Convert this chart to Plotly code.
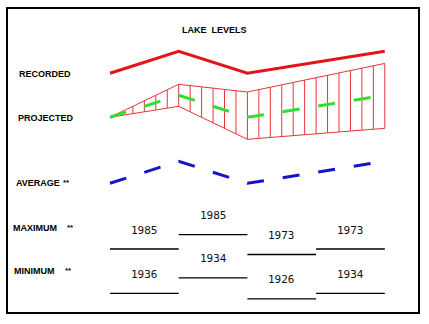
import numpy as np
import plotly.graph_objects as go

# ---- data -------------------------------------------------------------
periods = [0, 1, 2, 3, 4]                      # period boundaries along the x axis
recorded = [577.0, 579.0, 577.0, 578.0, 579.0]
projected_high = [573.0, 576.0, 575.3, 576.6, 577.9]
projected_low = [573.0, 574.0, 571.0, 571.5, 572.0]
projected_mid = [573.0, 575.0, 573.0, 574.0, 575.0]
average = [577.0, 579.0, 577.0, 578.0, 579.0]

segments = [0, 1, 2, 3]                        # each spans segments[i] .. segments[i]+1
maximum_level = [581.0, 582.3, 580.5, 581.0]
maximum_year = ["1985", "1985", "1973", "1973"]
minimum_level = [572.0, 573.4, 571.5, 572.0]
minimum_year = ["1936", "1934", "1926", "1934"]

row_labels = ["RECORDED", "PROJECTED", "AVERAGE", "MAXIMUM", "MINIMUM"]

# ---- layout constants --------------------------------------------------
W, H = 429, 324
X0_PX, STEP_PX = 110.0, 68.7                   # pixel of period 0, pixels per period
PX_PER_FT = 11.0

RED = "#e4141b"
HATCH = "#e8343a"
GREEN = "#2ee02e"
BLUE = "#1414c8"
DASH = "17px,19px"
LABEL_FONT = dict(family="Liberation Sans Narrow, Arial Narrow, Liberation Sans, Arial",
                  size=9, color="black")
YEAR_FONT = dict(family="DejaVu Sans Mono, Liberation Mono, monospace", size=11, color="#111111")


def y_range(ref_level, ref_px):
    """Axis range so that ref_level sits at ref_px from the top of the page."""
    return [ref_level - (H - ref_px) / PX_PER_FT, ref_level + ref_px / PX_PER_FT]


fig = go.Figure()

# recorded level
fig.add_trace(go.Scatter(x=periods, y=recorded, mode="lines",
                         line=dict(color=RED, width=3), yaxis="y"))

# projected band: outline plus vertical hatching
fig.add_trace(go.Scatter(x=periods, y=projected_high, mode="lines",
                         line=dict(color=HATCH, width=1), yaxis="y"))
fig.add_trace(go.Scatter(x=periods, y=projected_low, mode="lines",
                         line=dict(color=HATCH, width=1), yaxis="y"))
hx, hy = [], []
for xk in np.arange(0, 24 + 1) / 6.0:
    lo = float(np.interp(xk, periods, projected_low))
    hi = float(np.interp(xk, periods, projected_high))
    hx += [xk, xk, None]
    hy += [lo, hi, None]
fig.add_trace(go.Scatter(x=hx, y=hy, mode="lines",
                         line=dict(color=HATCH, width=1), yaxis="y"))
fig.add_trace(go.Scatter(x=periods, y=projected_mid, mode="lines",
                         line=dict(color=GREEN, width=3, dash=DASH), yaxis="y"))

# average level
fig.add_trace(go.Scatter(x=periods, y=average, mode="lines",
                         line=dict(color=BLUE, width=3, dash=DASH), yaxis="y2"))

# maximum / minimum per period with the year of occurrence
annotations = []
for axis, levels, years in (("y3", maximum_level, maximum_year),
                            ("y4", minimum_level, minimum_year)):
    sx, sy = [], []
    for s, lv in zip(segments, levels):
        sx += [s, s + 1, None]
        sy += [lv, lv, None]
    fig.add_trace(go.Scatter(x=sx, y=sy, mode="lines",
                             line=dict(color="black", width=1.3), yaxis=axis))
    for s, lv, yr in zip(segments, levels, years):
        annotations.append(dict(x=s + 0.5, y=lv, xref="x", yref=axis, text=yr,
                                showarrow=False, yshift=19, font=YEAR_FONT,
                                xanchor="center", yanchor="middle"))

# row captions
caption_pos = [(17, 74), (16, 118), (14, 183), (11, 228), (12, 271)]
star_pos = [None, None, 61, 65, 63]
for text, (px, py), sp in zip(row_labels, caption_pos, star_pos):
    annotations.append(dict(x=px / W, y=1 - py / H, xref="paper", yref="paper",
                            text="<b>%s</b>" % text, showarrow=False,
                            xanchor="left", yanchor="middle", font=LABEL_FONT))
    if sp is not None:
        annotations.append(dict(x=sp / W, y=1 - (py - 1) / H, xref="paper", yref="paper",
                                text="<b>**</b>", showarrow=False,
                                xanchor="left", yanchor="middle",
                                font=dict(LABEL_FONT, size=8)))

annotations.append(dict(x=214 / W, y=1 - 30 / H, xref="paper", yref="paper",
                        text="<b>LAKE  LEVELS</b>", showarrow=False,
                        xanchor="center", yanchor="middle", font=LABEL_FONT))

hidden = dict(visible=False, showgrid=False, zeroline=False, fixedrange=True)
fig.update_layout(
    width=W, height=H, autosize=False,
    margin=dict(l=0, r=0, t=0, b=0, pad=0),
    paper_bgcolor="white", plot_bgcolor="white",
    showlegend=False,
    xaxis=dict(hidden, range=[-X0_PX / STEP_PX, (W - X0_PX) / STEP_PX], domain=[0, 1]),
    yaxis=dict(hidden, range=y_range(577.0, 73.3), domain=[0, 1]),
    yaxis2=dict(hidden, range=y_range(577.0, 183.3), overlaying="y"),
    yaxis3=dict(hidden, range=y_range(581.0, 249.0), overlaying="y"),
    yaxis4=dict(hidden, range=y_range(572.0, 293.3), overlaying="y"),
    annotations=annotations,
    shapes=[dict(type="rect", xref="paper", yref="paper",
                 x0=7 / W, x1=419 / W, y0=1 - 313 / H, y1=1 - 8 / H,
                 line=dict(color="black", width=2))],
)

fig.write_html("out.html", config={"displayModeBar": False})
